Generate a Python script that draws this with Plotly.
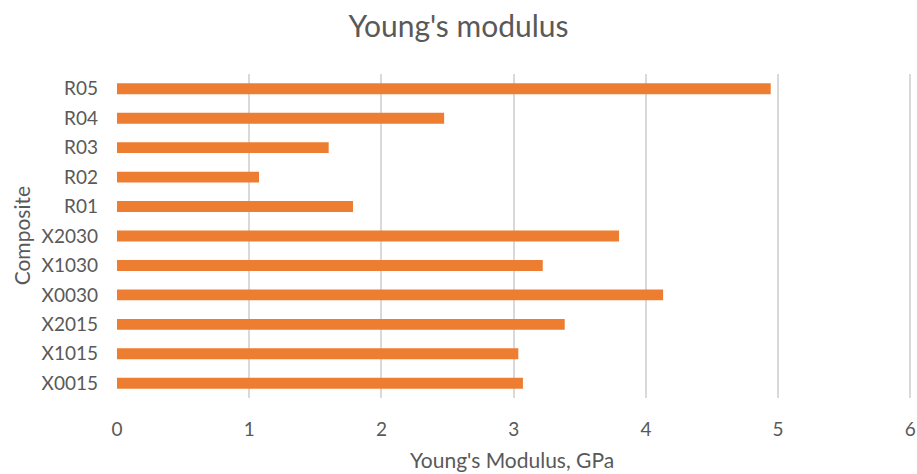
import plotly.graph_objects as go

# Composite samples, listed bottom to top as drawn on the category axis
composites = ["X0015", "X1015", "X2015", "X0030", "X1030", "X2030",
              "R01", "R02", "R03", "R04", "R05"]
# Young's modulus of each composite, GPa
modulus_gpa = [3.07, 3.035, 3.386, 4.13, 3.22, 3.797,
               1.785, 1.074, 1.601, 2.474, 4.944]

x_ticks = [0, 1, 2, 3, 4, 5, 6]

BAR = "#ED7D31"
GRID = "#D9D9D9"
TEXT = "#595959"
FONT = "Lato"

fig = go.Figure(
    go.Bar(
        x=modulus_gpa,
        y=composites,
        orientation="h",
        marker=dict(color=BAR, line=dict(width=0)),
        hoverinfo="x+y",
    )
)

fig.update_layout(
    width=917,
    height=474,
    margin=dict(l=117, r=1, t=74, b=76),
    paper_bgcolor="white",
    plot_bgcolor="white",
    bargap=0.63,
    showlegend=False,
    font=dict(family=FONT, color=TEXT, size=19),
    title=dict(
        text="Young's modulus",
        x=0.5,
        xref="container",
        y=1 - 26 / 474,
        yref="container",
        xanchor="center",
        yanchor="middle",
        font=dict(family=FONT, size=30, color=TEXT),
    ),
    xaxis=dict(
        range=[0, 6.02],
        tickvals=x_ticks,
        ticktext=[str(v) for v in x_ticks],
        showgrid=True,
        gridcolor=GRID,
        gridwidth=1.5,
        zeroline=False,
        showline=False,
        ticks="",
        ticklabelstandoff=18,
        ticklabeloverflow="allow",
        tickfont=dict(family=FONT, size=19, color=TEXT),
        fixedrange=True,
    ),
    yaxis=dict(
        categoryorder="array",
        categoryarray=composites,
        showgrid=False,
        zeroline=False,
        showline=False,
        ticks="",
        ticklabelstandoff=18,
        tickfont=dict(family=FONT, size=19, color=TEXT),
        fixedrange=True,
    ),
    annotations=[
        dict(
            text="Young's Modulus, GPa",
            x=(513 - 117) / 799,
            xref="paper",
            y=-61 / 324,
            yref="paper",
            xanchor="center",
            yanchor="middle",
            showarrow=False,
            font=dict(family=FONT, size=21, color=TEXT),
        ),
        dict(
            text="Composite",
            textangle=-90,
            x=-96 / 799,
            xref="paper",
            y=0.5,
            yref="paper",
            xanchor="center",
            yanchor="middle",
            showarrow=False,
            font=dict(family=FONT, size=21, color=TEXT),
        ),
    ],
)

fig.write_html("out.html")
